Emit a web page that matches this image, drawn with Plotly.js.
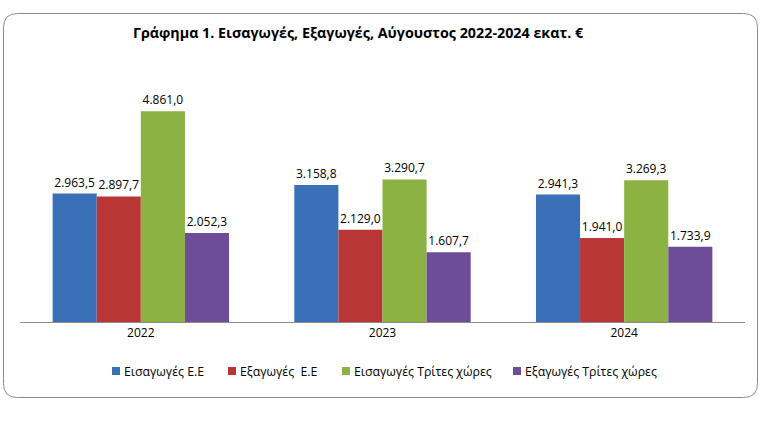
<!DOCTYPE html>
<html><head><meta charset="utf-8">
<script src="https://cdn.plot.ly/plotly-3.0.1.min.js"></script>
<style>body{margin:0;background:#fff}#c{width:768px;height:422px}</style>
</head><body><div id="c"></div>
<script>
const years = ['2022', '2023', '2024'];
const seriesNames = ['Εισαγωγές Ε.Ε', 'Εξαγωγές\u00a0\u00a0Ε.Ε', 'Εισαγωγές Τρίτες χώρες', 'Εξαγωγές Τρίτες χώρες'];
const importsEU = [2963.5, 3158.8, 2941.3];
const exportsEU = [2897.7, 2129.0, 1941.0];
const importsThird = [4861.0, 3290.7, 3269.3];
const exportsThird = [2052.3, 1607.7, 1733.9];
const colors = ['#3a70b8', '#b93636', '#8bb243', '#6d4d97'];
const values = [importsEU, exportsEU, importsThird, exportsThird];
const FONT = 'Open Sans, sans-serif';

const traces = values.map((v, i) => ({
  type: 'bar', name: seriesNames[i], x: years, y: v,
  marker: {color: colors[i]},
  texttemplate: '%{y:,.1f}', textposition: 'outside', cliponaxis: false,
  textfont: {family: FONT, size: 12, color: '#000'},
  hoverinfo: 'none', showlegend: false
}));

const ML = 20, MR = 23, MT = 62, MB = 100, WW = 768, HH = 422;
const PW = WW - ML - MR, PH = HH - MT - MB;
const px = x => (x - ML) / PW, py = y => (HH - MB - y) / PH;

const layout = {
  width: WW, height: HH,
  margin: {l: ML, r: MR, t: MT, b: MB},
  paper_bgcolor: '#fff', plot_bgcolor: '#fff',
  separators: ',.',
  barmode: 'group', bargap: 0.27, bargroupgap: 0,
  title: {text: '<b>Γράφημα 1. Εισαγωγές, Εξαγωγές, Αύγουστος 2022-2024 εκατ. €</b>',
    font: {family: FONT, size: 14.3, color: '#000'},
    x: 358 / WW, xanchor: 'center', y: 1 - 33 / HH, yanchor: 'middle'},
  xaxis: {showline: true, linecolor: '#8c8c8c', linewidth: 1, ticks: '',
    tickfont: {family: FONT, size: 12, color: '#000'}},
  yaxis: {range: [0, 6000], visible: false, showgrid: false, zeroline: false},
  showlegend: false,
  shapes: [], annotations: []
};
// rounded border
(function(){
  const x0 = 3.5, x1 = 757.5, y0 = 13.5, y1 = 397.5, r = 14;
  layout.shapes.push({type: 'path', xref: 'paper', yref: 'paper', line: {color: '#8c8c8c', width: 1},
    path: `M ${px(x0+r)} ${py(y0)} L ${px(x1-r)} ${py(y0)} Q ${px(x1)} ${py(y0)} ${px(x1)} ${py(y0+r)} ` +
    `L ${px(x1)} ${py(y1-r)} Q ${px(x1)} ${py(y1)} ${px(x1-r)} ${py(y1)} ` +
    `L ${px(x0+r)} ${py(y1)} Q ${px(x0)} ${py(y1)} ${px(x0)} ${py(y1-r)} ` +
    `L ${px(x0)} ${py(y0+r)} Q ${px(x0)} ${py(y0)} ${px(x0+r)} ${py(y0)} Z`});
})();
// legend (drawn manually to match spacing)
const legendX = [112, 228, 342, 513];
seriesNames.forEach((n, i) => {
  const lx = legendX[i];
  layout.shapes.push({type: 'rect', xref: 'paper', yref: 'paper',
    x0: px(lx), x1: px(lx + 8), y0: py(375), y1: py(367),
    fillcolor: colors[i], line: {width: 0}});
  layout.annotations.push({xref: 'paper', yref: 'paper', x: px(lx + 10), y: py(371),
    xanchor: 'left', yanchor: 'middle', showarrow: false, text: n,
    font: {family: FONT, size: 12.3, color: '#000'}});
});
Plotly.newPlot('c', traces, layout, {displayModeBar: false, staticPlot: true});
</script></body></html>
